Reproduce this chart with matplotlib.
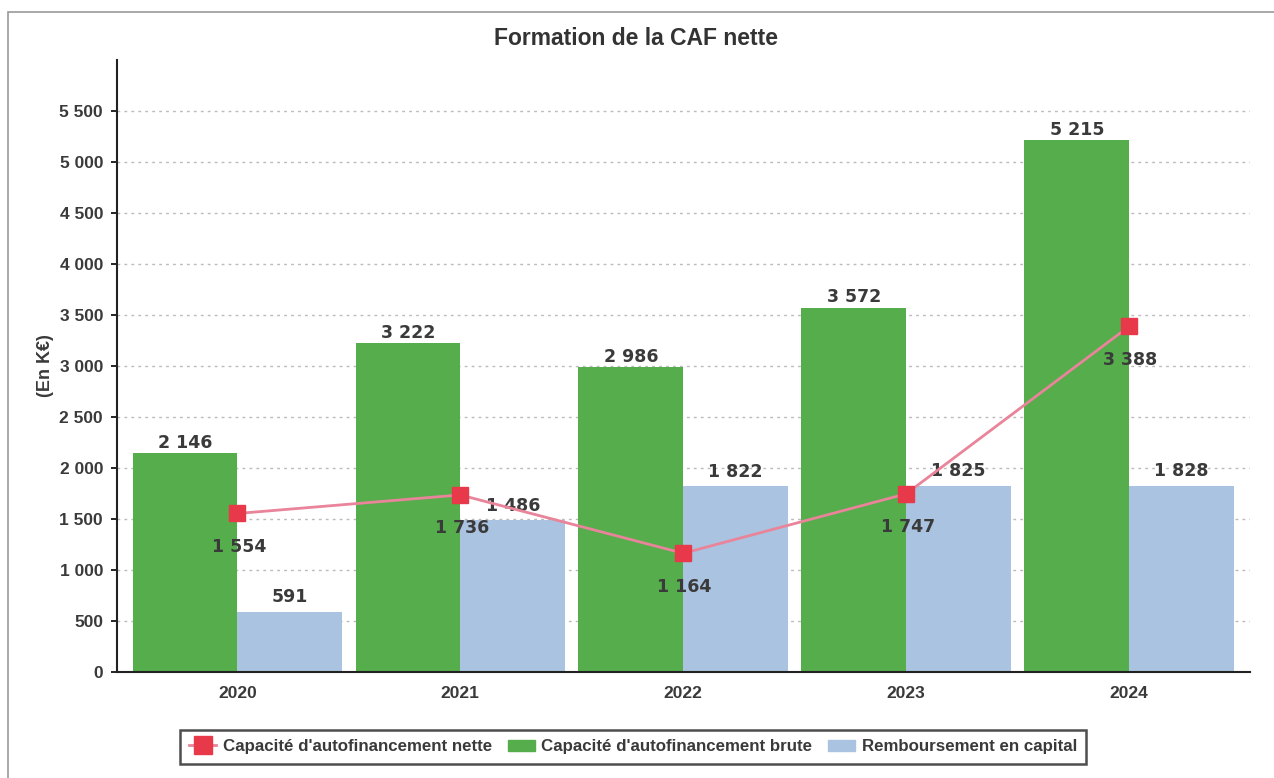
import matplotlib.pyplot as plt
from matplotlib.lines import Line2D
from matplotlib.patches import Patch, Rectangle
import numpy as np

annees = ["2020", "2021", "2022", "2023", "2024"]
caf_brute = [2146, 3222, 2986, 3572, 5215]
remboursement = [591, 1486, 1822, 1825, 1828]
caf_nette = [1554, 1736, 1164, 1747, 3388]

vert = "#55ad4b"
bleu = "#a9c3e0"
rouge = "#e8394a"
rose = "#e9849a"


def fmt(v):
    return f"{v:,}".replace(",", " ")


fig = plt.figure(figsize=(12.74, 7.78), dpi=100)
ax = fig.add_axes([0.0918, 0.1362, 0.889, 0.7868])

x = np.arange(len(annees))
w = 0.47
ax.bar(x - w / 2, caf_brute, w, color=vert, zorder=2)
ax.bar(x + w / 2, remboursement, w, color=bleu, zorder=2)
ax.plot(x, caf_nette, color=rose, lw=2, marker="s", ms=12,
        mfc=rouge, mec=rouge, zorder=4)

# étiquettes des valeurs
lab = dict(family="DejaVu Sans", fontsize=12.5, fontweight="bold", color="#3a3a3a")
for i in range(len(annees)):
    ax.annotate(fmt(caf_brute[i]), (x[i] - w / 2, caf_brute[i]), xytext=(0, 1),
                textcoords="offset points", ha="center", va="bottom", **lab)
    ax.annotate(fmt(remboursement[i]), (x[i] + w / 2, remboursement[i]), xytext=(0, 4),
                textcoords="offset points", ha="center", va="bottom", **lab)
    ax.annotate(fmt(caf_nette[i]), (x[i], caf_nette[i]), xytext=(1, -24),
                textcoords="offset points", ha="center", va="center", zorder=5, **lab)

ax.set_xlim(-0.54, 4.54)
ax.set_ylim(0, 6000)
ax.set_yticks(np.arange(0, 5501, 500))
ax.set_yticklabels([fmt(v) for v in range(0, 5501, 500)])
ax.set_xticks(x)
ax.set_xticklabels(annees)
ax.tick_params(axis="y", length=4, width=1.2, labelsize=12.5, pad=6)
ax.tick_params(axis="x", length=0, labelsize=12.5, pad=10)
for t in ax.get_xticklabels() + ax.get_yticklabels():
    t.set_family("Liberation Sans")
    t.set_fontweight("bold")
    t.set_color("#3a3a3a")
ax.grid(axis="y", ls=(0, (2, 3)), color="#bbbbbb", lw=1, zorder=0)
for s in ["top", "right"]:
    ax.spines[s].set_visible(False)
for s in ["left", "bottom"]:
    ax.spines[s].set_linewidth(1.5)
    ax.spines[s].set_color("#222222")

ax.set_ylabel("(En K€)", family="Liberation Sans", fontsize=13, fontweight="bold",
              color="#3a3a3a", labelpad=4)
fig.text(0.499, 0.951, "Formation de la CAF nette", ha="center", va="center",
         family="Liberation Sans", fontsize=16.5, fontweight="bold", color="#333333")

handles = [
    Line2D([], [], color=rose, lw=2, marker="s", ms=13, mfc=rouge, mec=rouge),
    Patch(color=vert),
    Patch(color=bleu),
]
noms = ["Capacité d'autofinancement nette", "Capacité d'autofinancement brute",
        "Remboursement en capital"]
leg = fig.legend(handles, noms, loc="center", bbox_to_anchor=(0.497, 0.040), ncol=3,
                 fancybox=False, edgecolor="#222222", handlelength=1.6, handletextpad=0.4,
                 columnspacing=0.9, borderpad=0.55,
                 prop={"family": "Liberation Sans", "size": 12.2, "weight": "bold"})
leg.get_frame().set_linewidth(1.8)
for t in leg.get_texts():
    t.set_color("#3a3a3a")

fig.patches.append(Rectangle((0.006, -0.01), 1.1, 0.995, transform=fig.transFigure,
                             fill=False, edgecolor="#999999", lw=1.2))

fig.savefig("out.png", dpi=100)
